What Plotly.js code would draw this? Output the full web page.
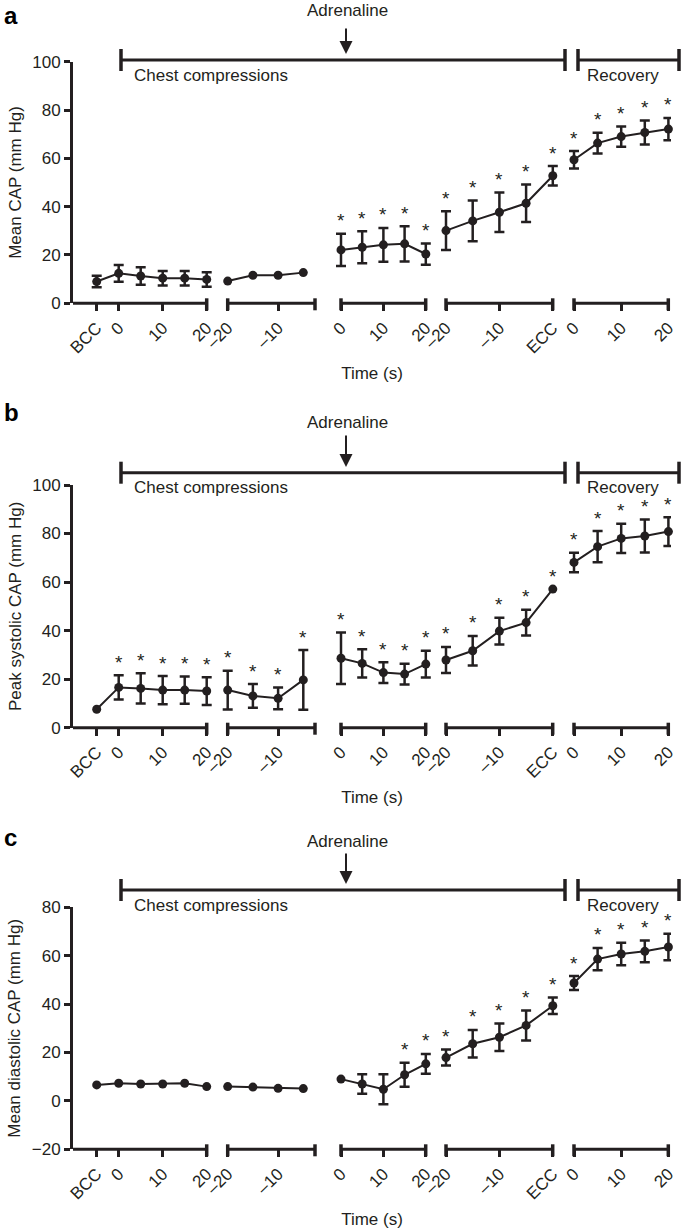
<!DOCTYPE html>
<html><head><meta charset="utf-8">
<script src="https://cdn.plot.ly/plotly-3.0.1.min.js"></script>
<style>html,body{margin:0;padding:0;background:#fff}</style>
</head><body><div id="chart" style="width:685px;height:1231px"></div>
<script>
// ---------- data ----------
const timeLabels = ['BCC','0','5','10','15','20', '–20','–15','–10','–5', '0','5','10','15','20', '–20','–15','–10','–5','ECC', '0','5','10','15','20'];
const segmentOf  = [0,0,0,0,0,0, 1,1,1,1, 2,2,2,2,2, 3,3,3,3,3, 4,4,4,4,4];
const labelledTicks = [0,1,3,5,6,8,10,12,14,15,17,19,20,22,24];

const meanCAP    = [9.0,12.4,11.3,10.4,10.4,9.9, 9.2,11.6,11.6,12.7, 22.1,23.2,24.2,24.6,20.4, 30.1,34.1,37.7,41.4,52.8, 59.4,66.3,69.0,70.7,72.1];
const meanCAPErr = [2.4,3.5,3.6,3.0,3.0,3.0, NaN,NaN,NaN,NaN, 6.7,6.6,7.0,7.3,4.4, 8.0,8.4,8.2,7.8,4.0, 3.6,4.3,4.2,5.0,4.6];
const meanCAPSig = [0,0,0,0,0,0, 0,0,0,0, 1,1,1,1,1, 1,1,1,1,1, 1,1,1,1,1];

const peakSys    = [7.6,16.6,16.2,15.5,15.5,15.1, 15.5,13.1,12.1,19.7, 28.6,26.5,22.7,22.1,26.2, 27.9,31.7,39.8,43.3,57.1, 68.1,74.6,78.0,79.0,80.8];
const peakSysErr = [NaN,5.0,6.2,5.8,5.6,5.7, 8.0,4.9,4.5,12.3, 10.6,5.8,4.3,4.3,5.5, 5.4,6.1,5.5,5.3,NaN, 4.0,6.4,6.0,6.8,5.9];
const peakSysSig = [0,1,1,1,1,1, 1,1,1,1, 1,1,1,1,1, 1,1,1,1,1, 1,1,1,1,1];

const meanDia    = [6.6,7.3,7.0,7.0,7.3,5.9, 5.9,5.7,5.2,5.1, 9.0,7.0,4.8,10.8,15.3, 17.9,23.6,26.3,31.2,39.3, 48.7,58.6,60.7,61.8,63.6];
const meanDiaErr = [NaN,NaN,NaN,NaN,NaN,NaN, NaN,NaN,NaN,NaN, NaN,4.0,6.2,5.0,4.1, 3.3,5.7,5.7,6.2,3.4, 2.9,4.6,4.6,4.5,5.5];
const meanDiaSig = [0,0,0,0,0,0, 0,0,0,0, 0,0,0,1,1, 1,1,1,1,1, 1,1,1,1,1];

// ---------- layout geometry (pixels) ----------
const W = 685, H = 1231;
const px = v => v / W, py = v => 1 - v / H;
const INK = '#231f20';
const FONT = 'Liberation Sans, Arial, Helvetica, sans-serif';
const segStart = [96.7, 227.7, 341, 446, 574];
const segStep  = [22.0, 25.2, 21.2, 26.7, 23.6];
// bottom bracket of each segment: [start, end, capAtStart, capAtEnd]
const axisSeg = [[73,206.7,false,true],[227.7,315,true,true],[341,425.7,true,true],[446,552.7,true,true],[574,668.3,true,true]];

const xPos = (() => { const out = []; const cnt = [0,0,0,0,0];
  segmentOf.forEach(s => { out.push(segStart[s] + cnt[s]*segStep[s]); cnt[s]++; }); return out; })();

const panels = [
  {letter:'a', vals:meanCAP, errs:meanCAPErr, sig:meanCAPSig, title:'Mean CAP (mm Hg)', range:[0,100],
   top:61.7, bottom:303.3, letterY:16, adrY:10, arrowTail:27, arrowTip:54, barY:60, labelY:76},
  {letter:'b', vals:peakSys, errs:peakSysErr, sig:peakSysSig, title:'Peak systolic CAP (mm Hg)', range:[0,100],
   top:485, bottom:727.7, letterY:412, adrY:422, arrowTail:434, arrowTip:467, barY:472.7, labelY:487},
  {letter:'c', vals:meanDia, errs:meanDiaErr, sig:meanDiaSig, title:'Mean diastolic CAP (mm Hg)', range:[-20,80],
   top:907.3, bottom:1149.3, letterY:837, adrY:841, arrowTail:852, arrowTip:884, barY:890, labelY:905}
];

const traces = [], shapes = [], annotations = [];
const layout = {
  width: W, height: H, margin: {l:0, r:0, t:0, b:0},
  paper_bgcolor: '#fff', plot_bgcolor: 'rgba(0,0,0,0)', showlegend: false,
  font: {family: FONT, color: INK, size: 16}
};

const line = (x0,y0,x1,y1,w) => ({type:'line', xref:'paper', yref:'paper', x0:px(x0), y0:py(y0), x1:px(x1), y1:py(y1), line:{color:INK, width:w}});

panels.forEach((p, pi) => {
  const n = pi === 0 ? '' : String(pi + 1);
  const xa = 'x' + n, ya = 'y' + n;
  // one trace per segment
  for (let s = 0; s < 5; s++) {
    const idx = segmentOf.map((v,i) => v === s ? i : -1).filter(i => i >= 0);
    traces.push({
      type: 'scatter', mode: 'lines+markers', xaxis: xa, yaxis: ya, cliponaxis: false,
      x: idx.map(i => xPos[i]), y: idx.map(i => p.vals[i]),
      text: idx.map(i => timeLabels[i]),
      line: {color: INK, width: 2}, marker: {color: INK, size: 9},
      error_y: {type:'data', array: idx.map(i => p.errs[i]), visible:true, color: INK, thickness: 2.5, width: 5},
      hoverinfo: 'y+text'
    });
  }
  // significance stars
  p.sig.forEach((f, i) => {
    if (!f) return;
    const e = isNaN(p.errs[i]) ? 0 : p.errs[i];
    annotations.push({xref: xa, yref: ya, x: xPos[i], y: p.vals[i] + e, text: '*', showarrow: false,
      yshift: 13, font: {size: 19, color: INK}});
  });
  layout['xaxis' + n] = {
    domain: [px(73), px(671)], range: [73, 671], anchor: ya,
    showgrid: false, zeroline: false, showline: false, fixedrange: true,
    ticks: 'outside', ticklen: 7, tickwidth: 3, tickcolor: INK,
    tickvals: labelledTicks.map(i => xPos[i]), ticktext: labelledTicks.map(i => timeLabels[i]),
    tickangle: -45, tickfont: {size: 17, color: INK},
    title: {text: 'Time (s)', font: {size: 17, color: INK}, standoff: 10}
  };
  layout['yaxis' + n] = {
    domain: [py(p.bottom), py(p.top)], range: p.range, anchor: xa,
    showgrid: false, zeroline: false, showline: true, linewidth: 3, linecolor: INK, fixedrange: true,
    ticks: 'outside', ticklen: 6, tickwidth: 3, tickcolor: INK, dtick: 20,
    tickfont: {size: 17, color: INK},
    title: {text: p.title, font: {size: 17, color: INK}, standoff: 7}
  };
  // segmented bottom axis with end caps
  axisSeg.forEach(([a, b, c0, c1]) => {
    shapes.push(line(a, p.bottom, b, p.bottom, 3));
    if (c0) shapes.push(line(a, p.bottom - 5, a, p.bottom + 7, 3.5));
    if (c1) shapes.push(line(b, p.bottom - 5, b, p.bottom + 7, 3.5));
  });
  // phase bars
  shapes.push(line(121, p.barY, 565, p.barY, 3));
  shapes.push(line(121, p.barY - 11, 121, p.barY + 11, 3.5));
  shapes.push(line(565, p.barY - 11, 565, p.barY + 11, 3.5));
  shapes.push(line(578, p.barY, 679, p.barY, 3));
  shapes.push(line(578, p.barY - 11, 578, p.barY + 11, 3.5));
  shapes.push(line(679, p.barY - 11, 679, p.barY + 11, 3.5));
  annotations.push({xref:'paper', yref:'paper', x: px(132), y: py(p.labelY), xanchor:'left', yanchor:'middle',
    text:'Chest compressions', showarrow:false, font:{size:17, color:INK}});
  annotations.push({xref:'paper', yref:'paper', x: px(623), y: py(p.labelY), xanchor:'center', yanchor:'middle',
    text:'Recovery', showarrow:false, font:{size:17, color:INK}});
  annotations.push({xref:'paper', yref:'paper', x: px(348), y: py(p.adrY), xanchor:'center', yanchor:'middle',
    text:'Adrenaline', showarrow:false, font:{size:17, color:INK}});
  annotations.push({xref:'paper', yref:'paper', x: px(346), y: py(p.arrowTip), text:'', showarrow:true,
    axref:'pixel', ayref:'pixel', ax: 0, ay: -(p.arrowTip - p.arrowTail),
    arrowhead: 2, arrowsize: 1.3, arrowwidth: 2, arrowcolor: INK, standoff: 0});
  annotations.push({xref:'paper', yref:'paper', x: px(2), y: py(p.letterY), xanchor:'left', yanchor:'middle',
    text:'<b>' + p.letter + '</b>', showarrow:false, font:{size:24, color:'#000'}});
});

layout.shapes = shapes;
layout.annotations = annotations;
Plotly.newPlot('chart', traces, layout, {staticPlot: true, displayModeBar: false});
</script></body></html>
